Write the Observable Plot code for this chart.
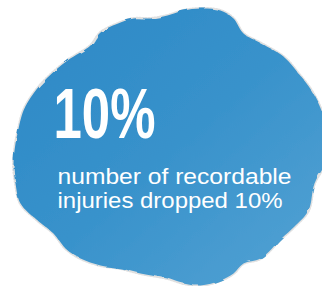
<!DOCTYPE html>
<html>
<head>
<meta charset="utf-8">
<script src="https://cdn.jsdelivr.net/npm/d3@7"></script>
<script src="https://cdn.jsdelivr.net/npm/@observablehq/plot@0.6"></script>
<style>
  html, body { margin: 0; padding: 0; background: #ffffff; }
  #chart { width: 322px; height: 286px; overflow: hidden; }
</style>
</head>
<body>
<div id="chart"></div>
<script>
// Watercolour blob outline (clockwise, pixel-space estimates)
const blobX = [15, 17, 23, 33, 47, 67, 90, 100, 120, 133, 150, 167, 183, 200, 220, 233, 243, 261, 284, 298, 311, 321, 326, 326, 314, 308, 294, 281, 260, 243, 233, 220, 200, 183, 167, 140, 120, 100, 80, 65, 53, 37, 20, 15, 13];
const blobY = [143, 133, 110, 93, 77, 60, 45, 32, 22, 18, 18, 15, 10, 8, 10, 18, 33, 43, 57, 73, 90, 110, 130, 160, 183, 210, 226, 238, 258, 263, 273, 280, 285, 283, 278, 273, 268, 265, 258, 248, 233, 220, 203, 183, 163];

// Text content
const headline = ["10%"];
const bodyLines = ["number of recordable", "injuries dropped 10%"];

const blob = blobX.map((x, i) => ({x, y: blobY[i]}));

const plot = Plot.plot({
  width: 322,
  height: 286,
  margin: 0,
  x: {domain: [0, 322], range: [0, 322], axis: null},
  y: {domain: [0, 286], range: [0, 286], axis: null},
  style: {background: "white", overflow: "hidden"},
  marks: [
    Plot.line(blob, {x: "x", y: "y", curve: "catmull-rom-closed", fill: "none", stroke: "#e0e0e0", strokeWidth: 3, strokeDasharray: "1,2", className: "halo"}),
    Plot.line(blob, {x: "x", y: "y", curve: "catmull-rom-closed", fill: "url(#blobGrad)", stroke: "none", className: "blob"}),
    Plot.text(headline, {x: 53, y: 137, text: d => d, textAnchor: "start", lineAnchor: "bottom", fill: "white", fontSize: 70, fontWeight: "bold", fontFamily: "Liberation Sans Narrow, Liberation Sans, Arial, sans-serif", className: "hero"}),
    Plot.text([bodyLines.join("\n")], {x: 57, y: 207.5, text: d => d, textAnchor: "start", lineAnchor: "bottom", lineHeight: 24 / 21.5, fill: "white", fontSize: 21.5, fontFamily: "Liberation Sans, Arial, sans-serif", className: "body"})
  ]
});

// gradient + roughness filter
const ns = "http://www.w3.org/2000/svg";
const defs = document.createElementNS(ns, "defs");
defs.innerHTML = `
  <linearGradient id="blobGrad" x1="0" y1="0" x2="1" y2="1">
    <stop offset="0" stop-color="#2c88c6"/>
    <stop offset="0.5" stop-color="#3892cb"/>
    <stop offset="1" stop-color="#55a3d4"/>
  </linearGradient>
  <filter id="rough" x="-5%" y="-5%" width="110%" height="110%">
    <feTurbulence type="fractalNoise" baseFrequency="0.08" numOctaves="2" seed="3"/>
    <feDisplacementMap in="SourceGraphic" scale="4"/>
  </filter>`;
plot.insertBefore(defs, plot.firstChild);
const blobG = plot.querySelector("g.blob");
if (blobG) blobG.setAttribute("filter", "url(#rough)");

plot.querySelectorAll(".hero text").forEach(t => {
  t.setAttribute("textLength", 102);
  t.setAttribute("lengthAdjust", "spacingAndGlyphs");
});
const widths = [234, 225];
plot.querySelectorAll(".body tspan").forEach((t, i) => {
  t.setAttribute("textLength", widths[i]);
  t.setAttribute("lengthAdjust", "spacingAndGlyphs");
});

document.getElementById("chart").appendChild(plot);
</script>
</body>
</html>
